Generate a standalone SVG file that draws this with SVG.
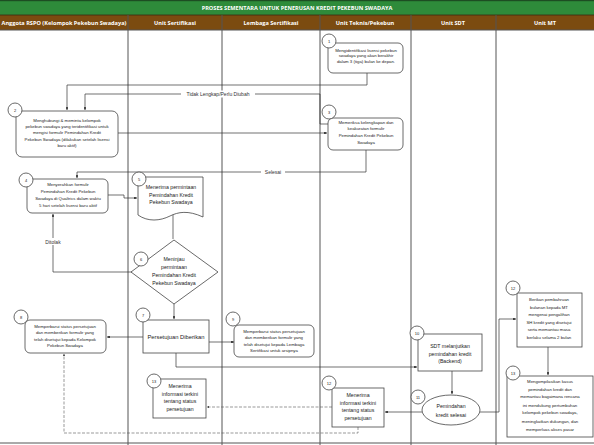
<svg xmlns="http://www.w3.org/2000/svg" width="594" height="445" viewBox="0 0 594 445">
<defs>
<marker id="arr" viewBox="0 0 6 6" refX="6" refY="3" markerWidth="4" markerHeight="4" orient="auto"><path d="M0,0 L6,3 L0,6 Z" fill="#222"/></marker>
<style>
.lane{stroke:#555;stroke-width:1;fill:none}
.box{fill:#fff;stroke:#444;stroke-width:0.8}
.num{fill:#fff;stroke:#444;stroke-width:0.8}
.t{font-family:"Liberation Sans",Arial,sans-serif;font-size:4.3px;fill:#222;text-anchor:middle}
.t5{font-family:"Liberation Sans",Arial,sans-serif;font-size:5.2px;fill:#222;text-anchor:middle}
.n{font-family:"Liberation Sans",Arial,sans-serif;font-size:4px;fill:#222;text-anchor:middle}
.hd{font-family:"Open Sans",sans-serif;font-size:5.6px;font-weight:bold;fill:#fff;text-anchor:middle}
.c{stroke:#333;stroke-width:0.7;fill:none}
.d{stroke:#555;stroke-width:0.6;fill:none;stroke-dasharray:3,1.5}
.lbl{font-family:"Liberation Sans",Arial,sans-serif;font-size:5px;fill:#333;text-anchor:middle}
</style>
</defs>
<rect width="594" height="445" fill="#fff"/>
<g id="header">
<rect x="0" y="0" width="594" height="15" fill="#2e8b3a"/>
<rect x="0" y="0" width="594" height="1.2" fill="#1d4d22"/>
<text class="hd" x="297" y="9.5">PROSES SEMENTARA UNTUK PENERUSAN KREDIT PEKEBUN SWADAYA</text>
<rect x="0" y="15" width="594" height="15" fill="#7b4b10"/>
<line x1="0" y1="15" x2="594" y2="15" stroke="#3a2a10" stroke-width="0.8"/>
<text class="hd" x="64" y="24.5">Anggota RSPO (Kelompok Pekebun Swadaya)</text>
<text class="hd" x="175" y="24.5">Unit Sertifikasi</text>
<text class="hd" x="271" y="24.5">Lembaga Sertifikasi</text>
<text class="hd" x="365" y="24.5">Unit Teknis/Pekebun</text>
<text class="hd" x="453" y="24.5">Unit SDT</text>
<text class="hd" x="545" y="24.5">Unit MT</text>
</g>
<g id="lanes">
<line class="lane" x1="0" y1="30" x2="594" y2="30"/>
<line class="lane" x1="128" y1="15" x2="128" y2="445"/>
<line class="lane" x1="222" y1="15" x2="222" y2="445"/>
<line class="lane" x1="320" y1="15" x2="320" y2="445"/>
<line class="lane" x1="411" y1="15" x2="411" y2="445"/>
<line class="lane" x1="496" y1="15" x2="496" y2="445"/>
<line class="lane" x1="0" y1="443" x2="594" y2="443" stroke-width="1.5"/>
</g>
<g id="connectors">
<path class="c" d="M367,73 V85 H67 V110" marker-end="url(#arr)"/>
<path class="c" d="M328,124 H320 V94 H85 V110" marker-end="url(#arr)"/>
<path class="c" d="M118,133 H327" marker-end="url(#arr)"/>
<path class="c" d="M366,150 V172 H77 V178" marker-end="url(#arr)"/>
<path class="c" d="M108,195 H124 V198 H137" marker-end="url(#arr)"/>
<path class="c" d="M173,214 V239"/>
<path class="c" d="M132,272 H53 V214" marker-end="url(#arr)"/>
<path class="c" d="M174,304 V319" marker-end="url(#arr)"/>
<path class="c" d="M143,337 H107" marker-end="url(#arr)"/>
<path class="c" d="M209,342 H234" marker-end="url(#arr)"/>
<path class="c" d="M176,353 V367 H417" marker-end="url(#arr)"/>
<path class="c" d="M452,371 V394" marker-end="url(#arr)"/>
<path class="c" d="M422,412 H385" marker-end="url(#arr)"/>
<path class="c" d="M480,412 H499 V319 H516" marker-end="url(#arr)"/>
<path class="c" d="M548,347 V375" marker-end="url(#arr)"/>
<path class="d" d="M332,407 H207" marker-end="url(#arr)"/>
<path class="d" d="M358,427 V433 H64 V354" marker-end="url(#arr)"/>
<rect x="181" y="90.5" width="74" height="7" fill="#fff"/>
<text class="lbl" x="218" y="96">Tidak Lengkap/Perlu Diubah</text>
<rect x="261" y="168.5" width="24" height="7" fill="#fff"/>
<text class="lbl" x="273" y="174">Selesai</text>
<rect x="43" y="238" width="20" height="7" fill="#fff"/>
<text class="lbl" x="53" y="244">Ditolak</text>
</g>
<g id="n1">
<rect class="box" x="328" y="43" width="75" height="30" rx="5"/>
<text class="t" x="366" y="51.5">Mengidentifikasi lisensi pekebun</text>
<text class="t" x="366" y="57">swadaya yang akan berakhir</text>
<text class="t" x="366" y="62.5">dalam 3 (tiga) bulan ke depan.</text>
<circle class="num" cx="329" cy="41" r="7"/><text class="n" x="329" y="42.5">1</text>
</g>
<g id="n2">
<rect class="box" x="16" y="111" width="102" height="46" rx="6"/>
<text class="t" x="67" y="121.5">Menghubungi &amp; meminta kelompok</text>
<text class="t" x="67" y="128">pekebun swadaya yang teridentifikasi untuk</text>
<text class="t" x="67" y="134">mengisi formulir Pemindahan Kredit</text>
<text class="t" x="67" y="140.5">Pekebun Swadaya (dilakukan setelah lisensi</text>
<text class="t" x="67" y="147">baru aktif)</text>
<circle class="num" cx="15" cy="110" r="7"/><text class="n" x="15" y="111.5">2</text>
</g>
<g id="n3">
<rect class="box" x="328" y="118" width="75" height="32" rx="5"/>
<text class="t" x="366" y="124">Memeriksa kelengkapan dan</text>
<text class="t" x="366" y="130">keakuratan formulir</text>
<text class="t" x="366" y="137">Pemindahan Kredit Pekebun</text>
<text class="t" x="366" y="143.5">Swadaya</text>
<circle class="num" cx="329" cy="112" r="7"/><text class="n" x="329" y="113.5">3</text>
</g>
<g id="n4">
<rect class="box" x="27" y="179" width="81" height="34" rx="5"/>
<text class="t" x="68" y="186">Menyerahkan formulir</text>
<text class="t" x="68" y="192.5">Pemindahan Kredit Pekebun</text>
<text class="t" x="68" y="199.5">Swadaya di Qualtrics dalam waktu</text>
<text class="t" x="68" y="206.5">5 hari setelah lisensi baru aktif</text>
<circle class="num" cx="26" cy="180" r="7"/><text class="n" x="26" y="181.5">4</text>
</g>
<g id="n5">
<path class="box" d="M138,177 H203 V217 C188,210 178,212 170,216 C160,221 148,222 138,215 Z"/>
<text class="t5" x="171" y="189">Menerima permintaan</text>
<text class="t5" x="171" y="196.5">Pemindahan Kredit</text>
<text class="t5" x="171" y="204">Pekebun Swadaya</text>
<circle class="num" cx="139" cy="179" r="7"/><text class="n" x="139" y="180.5">5</text>
</g>
<g id="n6">
<path class="box" d="M174,240 L218,272 L174,304 L131,272 Z"/>
<text class="t5" x="174" y="261">Meninjau</text>
<text class="t5" x="174" y="269">permintaan</text>
<text class="t5" x="174" y="277">Pemindahan Kredit</text>
<text class="t5" x="174" y="285">Pekebun Swadaya</text>
<circle class="num" cx="141" cy="259" r="7"/><text class="n" x="141" y="260.5">6</text>
</g>
<g id="n7">
<rect class="box" x="143" y="320" width="66" height="33"/>
<text class="t5" x="176" y="339" style="font-size:5.8px">Persetujuan Diberikan</text>
<circle class="num" cx="143" cy="315" r="7"/><text class="n" x="143" y="316.5">7</text>
</g>
<g id="n8">
<rect class="box" x="25" y="320" width="81" height="33" rx="5"/>
<text class="t" x="65" y="327.5">Memperbarui status persetujuan</text>
<text class="t" x="65" y="334">dan memberikan formulir yang</text>
<text class="t" x="65" y="340.5">telah disetujui kepada Kelompok</text>
<text class="t" x="65" y="347">Pekebun Swadaya</text>
<circle class="num" cx="21" cy="317" r="7"/><text class="n" x="21" y="318.5">8</text>
</g>
<g id="n9">
<rect class="box" x="234" y="325" width="80" height="32" rx="5"/>
<text class="t" x="274" y="332.5">Memperbarui status persetujuan</text>
<text class="t" x="274" y="339">dan memberikan formulir yang</text>
<text class="t" x="274" y="345.5">telah disetujui kepada Lembaga</text>
<text class="t" x="274" y="352">Sertifikasi untuk arsipnya</text>
<circle class="num" cx="233" cy="319" r="7"/><text class="n" x="233" y="320.5">9</text>
</g>
<g id="n10">
<rect class="box" x="418" y="334" width="64" height="37"/>
<text class="t5" x="450" y="348">SDT melanjutkan</text>
<text class="t5" x="450" y="355.5">pemindahan kredit</text>
<text class="t5" x="450" y="363">(Backend)</text>
<circle class="num" cx="417" cy="333" r="7"/><text class="n" x="417" y="334.5">10</text>
</g>
<g id="n11">
<ellipse class="box" cx="451" cy="410" rx="29" ry="15"/>
<text class="t5" x="451" y="408">Pemindahan</text>
<text class="t5" x="451" y="416.5">kredit selesai</text>
<circle class="num" cx="418" cy="397" r="7"/><text class="n" x="418" y="398.5">11</text>
</g>
<g id="n12mt">
<rect class="box" x="517" y="293" width="65" height="54"/>
<text class="t" x="549" y="301">Berikan pembahruan</text>
<text class="t" x="549" y="308.5">bulanan kepada MT</text>
<text class="t" x="549" y="316">mengenai pengalihan</text>
<text class="t" x="549" y="323.5">SH kredit yang disetujui</text>
<text class="t" x="549" y="331">serta memantau masa</text>
<text class="t" x="549" y="339">berlaku selama 2 bulan</text>
<circle class="num" cx="513" cy="288" r="7"/><text class="n" x="513" y="289.5">12</text>
</g>
<g id="n13mt">
<rect class="box" x="507" y="376" width="86" height="61"/>
<text class="t" x="550" y="383">Mengompilasikan kasus</text>
<text class="t" x="550" y="390.5">pemindahan kredit dan</text>
<text class="t" x="550" y="398">memantau bagaimana rencana</text>
<text class="t" x="550" y="406.5">ini mendukung pertumbuhan</text>
<text class="t" x="550" y="414">kelompok pekebun swadaya,</text>
<text class="t" x="550" y="422.5">meningkatkan dukungan, dan</text>
<text class="t" x="550" y="430.5">memperluas akses pasar</text>
<circle class="num" cx="513" cy="373" r="7"/><text class="n" x="513" y="374.5">13</text>
</g>
<g id="n12tek">
<rect class="box" x="332" y="388" width="52" height="39"/>
<text class="t5" x="358" y="397">Menerima</text>
<text class="t5" x="358" y="404.5">informasi terkini</text>
<text class="t5" x="358" y="412">tentang status</text>
<text class="t5" x="358" y="419.5">persetujuan</text>
<circle class="num" cx="329" cy="383" r="7"/><text class="n" x="329" y="384.5">12</text>
</g>
<g id="n13ser">
<rect class="box" x="153" y="379" width="53" height="39"/>
<text class="t5" x="180" y="388">Menerima</text>
<text class="t5" x="180" y="395.5">informasi terkini</text>
<text class="t5" x="180" y="403">tentang status</text>
<text class="t5" x="180" y="410.5">persetujuan</text>
<circle class="num" cx="154" cy="381" r="7"/><text class="n" x="154" y="382.5">13</text>
</g>
</svg>
